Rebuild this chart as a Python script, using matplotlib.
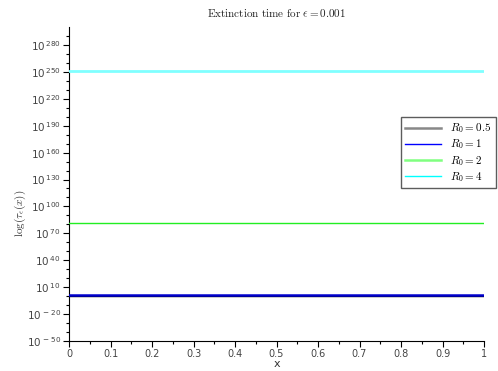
import numpy as np
import matplotlib
matplotlib.use("Agg")
import matplotlib.pyplot as plt
import matplotlib.lines as mlines
from matplotlib.font_manager import FontProperties
from matplotlib.ticker import FixedLocator, FuncFormatter, NullFormatter

plt.rcParams['mathtext.fontset'] = 'dejavusans'
plt.rcParams['axes.unicode_minus'] = False

# Data (log10 of extinction time, constant across x)
x = [0.0, 0.25, 0.5, 0.75, 1.0]
series_labels = [r'$R_0 = 0.5$', r'$R_0 = 1$', r'$R_0 = 2$', r'$R_0 = 4$']
log_tau_05 = [0.0, 0.0, 0.0, 0.0, 0.0]
log_tau_1 = [1.3, 1.3, 1.3, 1.3, 1.3]
log_tau_2 = [81.0, 81.0, 81.0, 81.0, 81.0]
log_tau_4 = [251.0, 251.0, 251.0, 251.0, 251.0]
y_major_exps = [-50, -20, 10, 40, 70, 100, 130, 160, 190, 220, 250, 280]
x_ticks = [0, 0.1, 0.2, 0.3, 0.4, 0.5, 0.6, 0.7, 0.8, 0.9, 1]

W, H = 498, 371
fig = plt.figure(figsize=(W / 100, H / 100), dpi=100)
ax = fig.add_axes([69 / W, 1 - 341 / H, (484 - 69) / W, (341 - 27) / H])

def pw(v):
    return [10.0 ** e for e in v]

ax.plot(x, pw(log_tau_05), color='black', lw=1.0, label=series_labels[0], zorder=3)
ax.plot(x, pw(log_tau_1), color='#0000cc', lw=1.8, label=series_labels[1], zorder=4)
ax.plot(x, pw(log_tau_2), color='#22ee22', lw=1.0, label=series_labels[2], zorder=3)
ax.plot(x, pw(log_tau_4), color='#80ffff', lw=2.0, label=series_labels[3], zorder=3)

ax.set_yscale('log')
ax.set_ylim(1e-50, 1e300)
ax.set_xlim(0, 1)

ax.yaxis.set_major_locator(FixedLocator(pw(y_major_exps)))
ax.yaxis.set_minor_locator(FixedLocator(pw(list(range(-40, 300, 10)))))
ax.yaxis.set_minor_formatter(NullFormatter())
ax.yaxis.set_major_formatter(FuncFormatter(
    lambda v, p: r'$10^{\,%d}$' % int(round(np.log10(v)))))
ax.xaxis.set_major_locator(FixedLocator(x_ticks))
ax.xaxis.set_minor_locator(FixedLocator([0.05 + 0.1 * i for i in range(10)]))
ax.xaxis.set_minor_formatter(NullFormatter())
ax.xaxis.set_major_formatter(FuncFormatter(lambda v, p: ('%g' % v)))

for side in ('top', 'right'):
    ax.spines[side].set_visible(False)
ax.tick_params(axis='both', which='major', direction='out', length=4, width=0.8,
               labelsize=7, labelcolor='#444444', pad=2)
ax.tick_params(axis='both', which='minor', direction='out', length=2, width=0.8)
ax.tick_params(axis='y', labelsize=7.5)

fig.text(276.5 / W, 1 - 13 / H, r'$\mathrm{Extinction\ time\ for\ }\epsilon = 0.001$',
         ha='center', va='center', fontsize=8, color='#222222', math_fontfamily='cm')
fig.text(276.5 / W, 1 - 364 / H, 'x', ha='center', va='center', fontsize=8, color='#333333')
fig.text(20 / W, 1 - 213 / H, r'$\log(\tau_\epsilon(x))$', rotation=90,
         ha='center', va='center', fontsize=8, color='#333333', math_fontfamily='cm')

handles, labels = ax.get_legend_handles_labels()
leg_colors = ['#888888', '#0000ff', '#80ff80', '#00ffff']
leg_lw = [1.8, 1.0, 1.8, 1.0]
hs = [mlines.Line2D([], [], color=c, lw=w) for c, w in zip(leg_colors, leg_lw)]
leg = fig.legend(hs, labels, loc='upper left',
                 bbox_to_anchor=(401 / W, 1 - 117 / H),
                 prop=FontProperties(size=8, math_fontfamily='cm'),
                 frameon=True, fancybox=False, handlelength=3.2,
                 borderpad=0.4, labelspacing=0.2, handletextpad=0.8,
                 borderaxespad=0)
leg.get_frame().set_edgecolor('#333333')
leg.get_frame().set_linewidth(1.0)

fig.savefig('out.png', dpi=100)
